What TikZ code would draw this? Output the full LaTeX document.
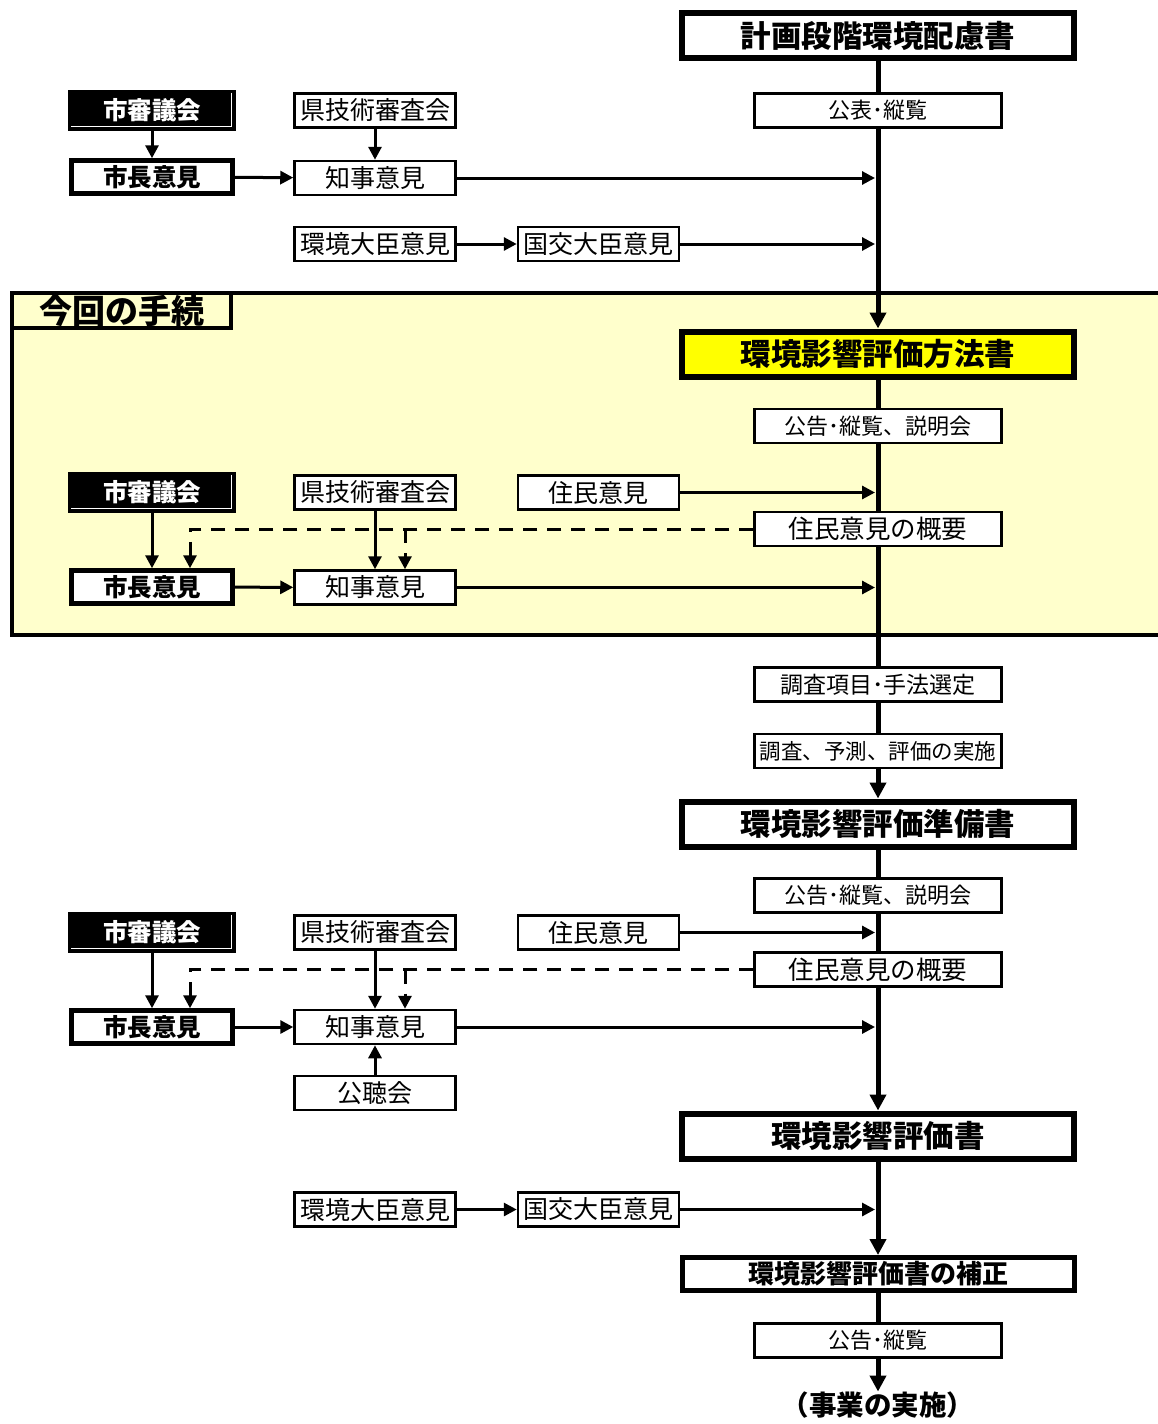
\documentclass[tikz,border=0pt]{standalone}
\usepackage{fontspec}
\setmainfont{Noto Sans CJK JP}
\usepackage{xcolor}
\usetikzlibrary{arrows.meta,positioning}
\definecolor{areayellow}{HTML}{FFFFCC}
\definecolor{docyellow}{HTML}{FFFF00}

\begin{document}
\begin{tikzpicture}[
    x=1pt, y=-1pt,
    docbox/.style={rectangle, draw, line width=6pt, fill=white, inner sep=0pt,
        minimum width=392pt, minimum height=45pt, font=\bfseries\fontsize{30.5}{36}\selectfont},
    stepbox/.style={rectangle, draw, line width=2.5pt, fill=white, inner sep=0pt,
        minimum width=247pt, minimum height=34pt, font=\fontsize{22}{26}\selectfont},
    opinion/.style={rectangle, draw, line width=2.5pt, fill=white, inner sep=0pt,
        minimum width=161pt, minimum height=34pt, font=\fontsize{25}{30}\selectfont},
    council/.style={rectangle, draw, line width=1pt, fill=black, text=white, inner sep=0pt,
        minimum width=167pt, minimum height=40pt, font=\bfseries\fontsize{24.5}{29}\selectfont,
        path picture={\draw[white, line width=0.8pt]
            ([xshift=-4pt,yshift=-2pt]path picture bounding box.north east) |-
            ([xshift=2pt,yshift=4pt]path picture bounding box.south west);}},
    mayor/.style={rectangle, draw, line width=4.5pt, fill=white, inner sep=0pt,
        minimum width=161pt, minimum height=33pt, font=\bfseries\fontsize{24.5}{29}\selectfont},
    flow/.style={-{Triangle[length=13pt,width=13pt]}, line width=3pt},
    dep/.style={flow, dash pattern=on 14pt off 10pt},
    spine/.style={line width=5pt},
    spinearrow/.style={spine, -{Triangle[length=16pt,width=16pt]}}
]
\useasboundingbox (0,0) rectangle (1157,1424);

% current procedure
\draw[line width=4pt, fill=areayellow] (12,293) rectangle (1165,635);
\node[rectangle, draw, line width=4pt, fill=areayellow, inner sep=0pt, minimum width=219pt, minimum height=35pt,
    font=\bfseries\fontsize{33}{40}\selectfont] (current) at (121.5,310.5) {今回の手続};

% planning stage
\node[docbox] (plan) at (878,35.5) {計画段階環境配慮書};
\node[stepbox] (kohyo1) at (878,110.5) {公表･縦覧};
\node[council] (shin1) at (152,110.5) {市審議会};
\node[opinion] (gitsu1) at (375,110.5) {県技術審査会};
\node[mayor] (mayor1) at (152,177) {市長意見};
\node[opinion] (chiji1) at (375,178) {知事意見};
\node[opinion] (kankyo1) at (375,244) {環境大臣意見};
\node[opinion] (kokko1) at (598.5,244) {国交大臣意見};

% scoping document
\node[docbox, fill=docyellow] (hoho) at (878,354) {環境影響評価方法書};
\node[stepbox] (kokoku2) at (878,426) {公告･縦覧、説明会};
\node[council] (shin2) at (152,492.5) {市審議会};
\node[opinion] (gitsu2) at (375,492.5) {県技術審査会};
\node[opinion] (jumin2) at (598.5,492.5) {住民意見};
\node[stepbox, font=\fontsize{25.5}{30}\selectfont] (gaiyo2) at (878,529) {住民意見の概要};
\node[mayor] (mayor2) at (152,587) {市長意見};
\node[opinion] (chiji2) at (375,587.5) {知事意見};

% survey
\node[stepbox, font=\fontsize{23}{27}\selectfont] (chosa) at (878,684.5) {調査項目･手法選定};
\node[stepbox, font=\fontsize{21.5}{26}\selectfont] (jisshi) at (878,751) {調査、予測、評価の実施};

% draft
\node[docbox] (junbi) at (878,824) {環境影響評価準備書};
\node[stepbox] (kokoku3) at (878,895.5) {公告･縦覧、説明会};
\node[council] (shin3) at (152,932.5) {市審議会};
\node[opinion] (gitsu3) at (375,932.5) {県技術審査会};
\node[opinion] (jumin3) at (598.5,932.5) {住民意見};
\node[stepbox, font=\fontsize{25.5}{30}\selectfont] (gaiyo3) at (878,969.5) {住民意見の概要};
\node[mayor] (mayor3) at (152,1027) {市長意見};
\node[opinion] (chiji3) at (375,1027) {知事意見};
\node[opinion] (kocho) at (375,1093) {公聴会};

% final
\node[docbox] (hyoka) at (878,1136) {環境影響評価書};
\node[opinion] (kankyo2) at (375,1209.5) {環境大臣意見};
\node[opinion] (kokko2) at (598.5,1209.5) {国交大臣意見};
\node[docbox, line width=5pt, minimum height=33pt, font=\bfseries\fontsize{26}{31}\selectfont] (hosei) at (878,1274) {環境影響評価書の補正};
\node[stepbox] (kokoku4) at (878,1340.5) {公告･縦覧};
\node[inner sep=0pt, font=\bfseries\fontsize{27.5}{33}\selectfont] (jigyo) at (878,1405) {（事業の実施）};

% main line
\draw[spine] (plan) -- (kohyo1);
\draw[spinearrow] (kohyo1) -- (hoho);
\draw[spine] (hoho) -- (kokoku2);
\draw[spine] (kokoku2) -- (gaiyo2);
\draw[spine] (gaiyo2) -- (chosa);
\draw[spine] (chosa) -- (jisshi);
\draw[spinearrow] (jisshi) -- (junbi);
\draw[spine] (junbi) -- (kokoku3);
\draw[spine] (kokoku3) -- (gaiyo3);
\draw[spinearrow] (gaiyo3) -- (hyoka);
\draw[spinearrow] (hyoka) -- (hosei);
\draw[spine] (hosei) -- (kokoku4);
\draw[spinearrow] (kokoku4) -- (jigyo);

% opinions
\draw[flow] (shin1) -- (mayor1);
\draw[flow] (gitsu1) -- (chiji1);
\draw[flow] (mayor1) -- (chiji1);
\draw[flow, shorten >=3pt] (chiji1.east) -- (chiji1 -| kohyo1);
\draw[flow] (kankyo1) -- (kokko1);
\draw[flow, shorten >=3pt] (kokko1.east) -- (kokko1 -| kohyo1);

\draw[flow] (shin2) -- (mayor2);
\draw[flow] (gitsu2) -- (chiji2);
\draw[flow] (mayor2) -- (chiji2);
\draw[flow, shorten >=3pt] (jumin2.east) -- (jumin2 -| gaiyo2);
\draw[flow, shorten >=3pt] (chiji2.east) -- (chiji2 -| gaiyo2);
\draw[dep] (gaiyo2.west) -| ([xshift=38pt]mayor2.north);
\draw[dep] ([xshift=30pt]chiji2.north |- gaiyo2.west) -- ([xshift=30pt]chiji2.north);

\draw[flow] (shin3) -- (mayor3);
\draw[flow] (gitsu3) -- (chiji3);
\draw[flow] (mayor3) -- (chiji3);
\draw[flow] (kocho) -- (chiji3);
\draw[flow, shorten >=3pt] (jumin3.east) -- (jumin3 -| gaiyo3);
\draw[flow, shorten >=3pt] (chiji3.east) -- (chiji3 -| gaiyo3);
\draw[dep] (gaiyo3.west) -| ([xshift=38pt]mayor3.north);
\draw[dep] ([xshift=30pt]chiji3.north |- gaiyo3.west) -- ([xshift=30pt]chiji3.north);

\draw[flow] (kankyo2) -- (kokko2);
\draw[flow, shorten >=3pt] (kokko2.east) -- (kokko2 -| hyoka);

\end{tikzpicture}
\end{document}
